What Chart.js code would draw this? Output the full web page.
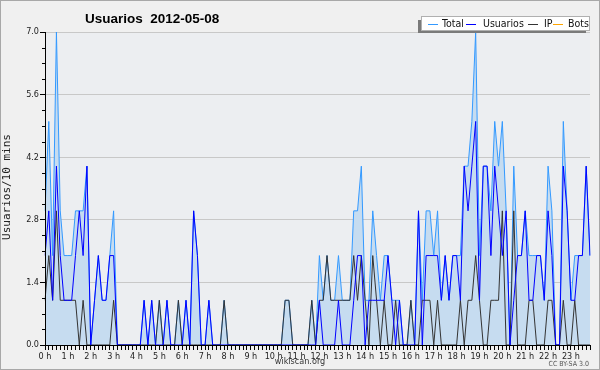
<!DOCTYPE html>
<html>
<head>
<meta charset="utf-8">
<script src="https://cdn.jsdelivr.net/npm/chart.js@4.4.1/dist/chart.umd.min.js"></script>
<style>
html, body { margin: 0; padding: 0; background: #f0f0f0; }
#wrap { width: 600px; height: 370px; }
</style>
</head>
<body>
<div id="wrap"><canvas id="chart" width="600" height="370"></canvas></div>
<script>
// 10-minute slots, 2012-05-08 (144 points)
const slots = Array.from({ length: 144 }, (_, i) => i);

const total = [
  3, 5, 2, 7, 3, 2, 2, 2, 3, 3, 3, 4, 0, 1, 2, 1, 1, 2, 3, 0, 0, 0, 0, 0,
  0, 0, 1, 0, 1, 0, 1, 0, 1, 0, 0, 1, 0, 1, 0, 3, 2, 0, 0, 1, 0, 0, 0, 1,
  0, 0, 0, 0, 0, 0, 0, 0, 0, 0, 0, 0, 0, 0, 0, 1, 1, 0, 0, 0, 0, 0, 1, 0,
  2, 1, 2, 1, 1, 2, 1, 1, 1, 3, 3, 4, 1, 1, 3, 2, 1, 2, 2, 1, 1, 1, 0, 0,
  1, 0, 3, 1, 3, 3, 2, 3, 1, 2, 1, 2, 2, 2, 4, 4, 5, 7, 2, 4, 4, 3, 5, 4,
  5, 3, 0, 4, 2, 2, 3, 2, 2, 2, 2, 1, 4, 3, 0, 0, 5, 3, 1, 2, 2, 2, 4, 2
];
const usuarios = [
  2, 3, 1, 4, 2, 1, 1, 1, 2, 3, 2, 4, 0, 1, 2, 1, 1, 2, 2, 0, 0, 0, 0, 0,
  0, 0, 1, 0, 1, 0, 0, 0, 1, 0, 0, 0, 0, 1, 0, 3, 2, 0, 0, 1, 0, 0, 0, 0,
  0, 0, 0, 0, 0, 0, 0, 0, 0, 0, 0, 0, 0, 0, 0, 0, 0, 0, 0, 0, 0, 0, 0, 0,
  1, 0, 0, 0, 0, 1, 0, 0, 0, 1, 2, 2, 0, 1, 1, 1, 1, 1, 2, 1, 0, 1, 0, 0,
  0, 0, 3, 0, 2, 2, 2, 2, 1, 2, 1, 2, 2, 1, 4, 3, 4, 5, 1, 4, 4, 2, 4, 3,
  2, 3, 0, 1, 2, 2, 3, 1, 1, 2, 2, 1, 3, 2, 0, 0, 4, 3, 1, 1, 2, 2, 4, 2
];
const ip = [
  1, 2, 1, 3, 1, 1, 1, 1, 1, 0, 1, 0, 0, 0, 0, 0, 0, 0, 1, 0, 0, 0, 0, 0,
  0, 0, 0, 0, 0, 0, 1, 0, 0, 0, 0, 1, 0, 0, 0, 0, 0, 0, 0, 0, 0, 0, 0, 1,
  0, 0, 0, 0, 0, 0, 0, 0, 0, 0, 0, 0, 0, 0, 0, 1, 1, 0, 0, 0, 0, 0, 1, 0,
  1, 1, 2, 1, 1, 1, 1, 1, 1, 2, 1, 2, 1, 0, 2, 1, 0, 1, 0, 0, 1, 0, 0, 0,
  1, 0, 0, 1, 1, 1, 0, 1, 0, 0, 0, 0, 0, 1, 0, 1, 1, 2, 1, 0, 0, 1, 1, 1,
  3, 0, 0, 3, 0, 0, 0, 1, 1, 0, 0, 0, 1, 1, 0, 0, 1, 0, 0, 1, 0, 0, 0, 0
];
const bots = new Array(144).fill(0);

const yTicks = [0, 1.4, 2.8, 4.2, 5.6, 7];

const FONT = '"DejaVu Sans Condensed", "DejaVu Sans", sans-serif';

// background, plot area colour, texts, legend box
const decor = {
  id: 'decor',
  beforeDraw(chart) {
    const c = chart.ctx, a = chart.chartArea;
    c.save();
    c.fillStyle = '#f0f0f0';
    c.fillRect(0, 0, 600, 370);
    c.strokeStyle = '#a8a8a8';
    c.strokeRect(0.5, 0.5, 599, 369);
    c.fillStyle = '#eceef1';
    c.fillRect(a.left, a.top, a.right - a.left, a.bottom - a.top);
    c.restore();
  },
  afterDatasetsDraw(chart) {
    const c = chart.ctx, a = chart.chartArea;
    const ys = chart.scales.y;
    c.save();
    c.strokeStyle = '#000';
    c.lineWidth = 1;
    c.beginPath();
    c.moveTo(Math.round(a.left) + 0.5, a.top);
    c.lineTo(Math.round(a.left) + 0.5, a.bottom + 0.5);
    c.lineTo(a.right, Math.round(a.bottom) + 0.5);
    // minor y ticks every 0.35
    for (let n = 1; n < 20; n++) {
      if (n % 4 === 0) continue;
      const y = Math.round(ys.getPixelForValue(n * 0.35)) + 0.5;
      c.moveTo(a.left - 3, y);
      c.lineTo(a.left, y);
    }
    c.stroke();
    c.restore();
  },
  afterDraw(chart) {
    const c = chart.ctx;
    c.save();
    // title
    c.fillStyle = '#000';
    c.font = 'bold 13.5px "Liberation Sans", sans-serif';
    c.textBaseline = 'alphabetic';
    c.fillText('Usuarios  2012-05-08', 85, 23);

    // y axis title
    c.save();
    c.translate(7, 187);
    c.rotate(-Math.PI / 2);
    c.font = '11px "DejaVu Sans Mono", monospace';
    c.textAlign = 'center';
    c.textBaseline = 'middle';
    c.fillStyle = '#222';
    c.fillText('Usuarios/10 mins', 0, 0);
    c.restore();

    // footer
    c.font = '9px ' + FONT;
    c.fillStyle = '#333';
    c.textAlign = 'center';
    c.textBaseline = 'middle';
    c.fillText('wikiscan.org', 300, 362);
    c.font = '7px ' + FONT;
    c.fillStyle = '#555';
    c.textAlign = 'right';
    c.fillText('CC BY-SA 3.0', 589, 364);

    // legend box
    c.fillStyle = '#7a7a7a';
    c.fillRect(418, 20, 168, 13);
    c.fillStyle = '#fff';
    c.fillRect(422, 17, 167, 13);
    c.strokeStyle = '#b0b0b0';
    c.strokeRect(421.5, 16.5, 168, 14);
    const items = [
      ['Total', '#3399ff', 428, 442],
      ['Usuarios', '#0000ff', 466, 483],
      ['IP', '#333333', 528, 544],
      ['Bots', '#ffa500', 553, 568]
    ];
    c.font = '10.5px ' + FONT;
    c.textAlign = 'left';
    c.textBaseline = 'middle';
    items.forEach(([label, color, lx, tx]) => {
      c.strokeStyle = color;
      c.beginPath();
      c.moveTo(lx, 24.5);
      c.lineTo(lx + 10, 24.5);
      c.stroke();
      c.fillStyle = '#111';
      c.fillText(label, tx, 24.5);
    });
    c.restore();
  }
};

const ctx = document.getElementById('chart').getContext('2d');
const chart = new Chart(ctx, {
  type: 'line',
  data: {
    labels: slots,
    datasets: [
      {
        label: 'Total', data: total, borderColor: '#3399ff', backgroundColor: '#c6dcf0',
        fill: 'origin', borderWidth: 1, pointRadius: 0, tension: 0, order: 3
      },
      {
        label: 'Usuarios', data: usuarios, borderColor: '#0000ff',
        fill: false, borderWidth: 1, pointRadius: 0, tension: 0, order: 1
      },
      {
        label: 'IP', data: ip, borderColor: '#333333',
        fill: false, borderWidth: 1, pointRadius: 0, tension: 0, order: 2
      },
      {
        label: 'Bots', data: bots, borderColor: '#ffa500',
        fill: false, borderWidth: 1, pointRadius: 0, tension: 0, order: 4
      }
    ]
  },
  options: {
    responsive: false,
    animation: false,
    events: [],
    layout: { padding: { left: 0, right: 10, top: 32, bottom: 0 } },
    plugins: { legend: { display: false }, title: { display: false }, tooltip: { enabled: false } },
    scales: {
      x: {
        type: 'category',
        offset: false,
        grid: { drawOnChartArea: false, tickLength: 5, tickColor: '#000' },
        border: { color: '#000' },
        ticks: {
          autoSkip: false, maxRotation: 0, minRotation: 0, padding: 1,
          color: '#222', font: { family: FONT, size: 9 },
          callback: (v, i) => (i % 6 === 0 ? (i / 6) + ' h' : '')
        },
        afterFit: s => { s.height = 25; }
      },
      y: {
        min: 0, max: 7,
        afterBuildTicks: s => { s.ticks = yTicks.map(v => ({ value: v })); },
        grid: { color: '#c8c8c8', tickLength: 5, tickColor: '#000' },
        border: { color: '#000' },
        ticks: {
          padding: 1, color: '#222', font: { family: FONT, size: 9 },
          callback: v => v.toFixed(1)
        },
        afterFit: s => { s.width = 45; }
      }
    }
  },
  plugins: [decor]
});
</script>
</body>
</html>
